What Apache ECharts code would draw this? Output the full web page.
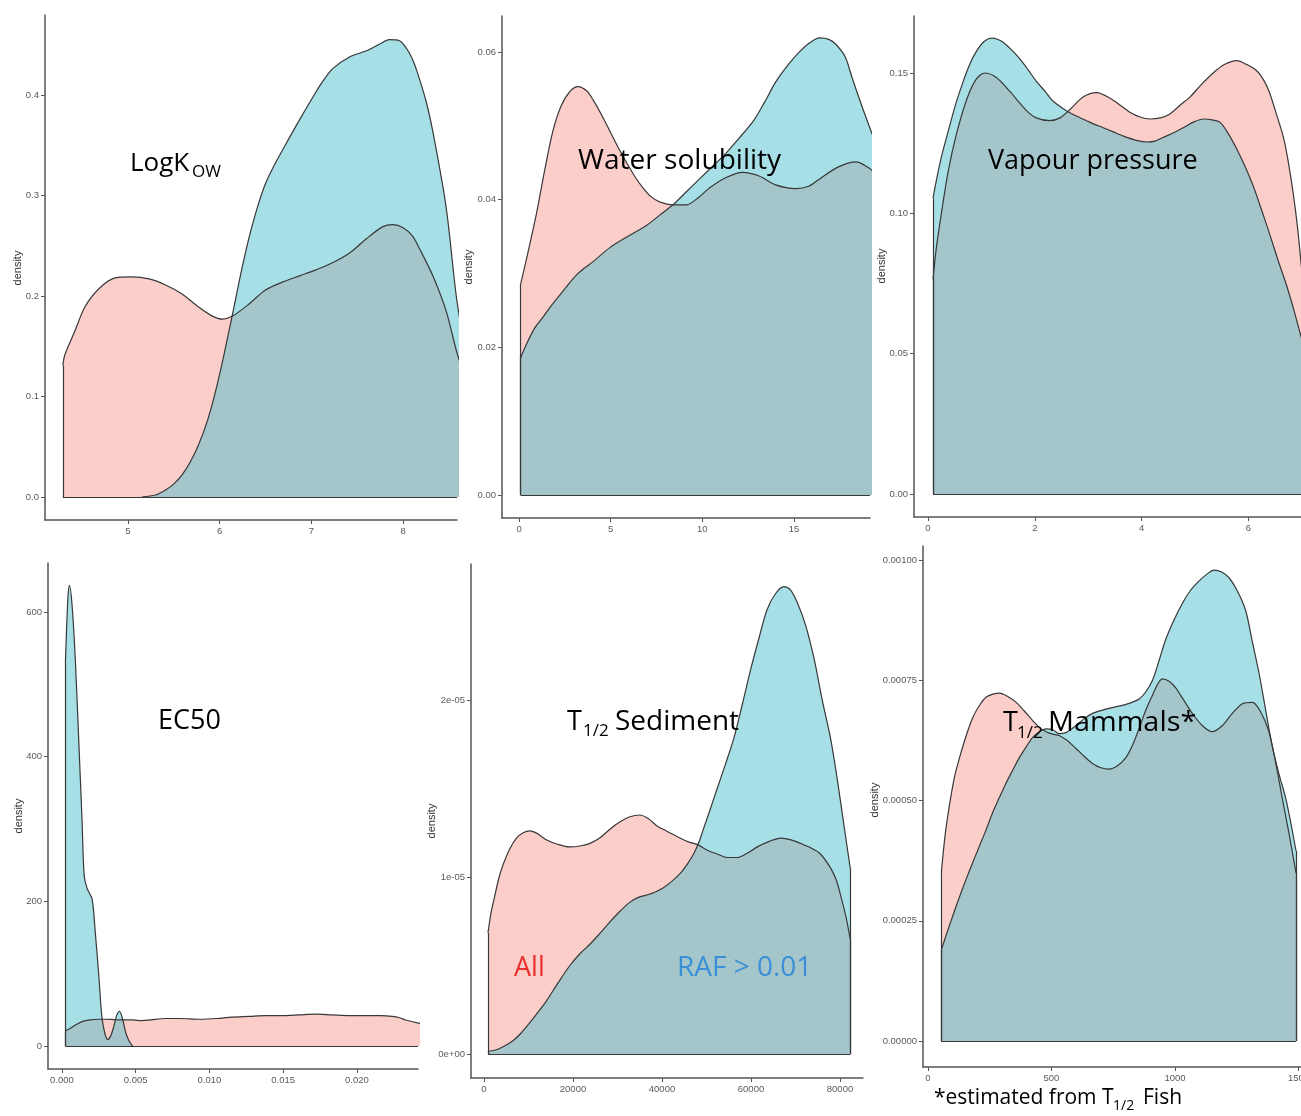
<!DOCTYPE html>
<html>
<head>
<meta charset="utf-8">
<script src="https://cdn.jsdelivr.net/npm/echarts@6/dist/echarts.min.js"></script>
<style>
html,body{margin:0;padding:0;background:#fff;}
#chart{width:1301px;height:1116px;}
</style>
</head>
<body>
<div id="chart"></div>
<script>
// ---------- data (x, density) ----------
const logkowAll = [[4.29,0.131],[4.31,0.141],[4.42,0.165],[4.53,0.189],[4.68,0.207],[4.86,0.218],[5.04,0.219],[5.23,0.217],[5.41,0.211],[5.59,0.202],[5.77,0.189],[5.92,0.180],[6.03,0.177],[6.14,0.180],[6.32,0.192],[6.5,0.206],[6.69,0.214],[6.87,0.220],[7.05,0.226],[7.23,0.233],[7.42,0.243],[7.6,0.257],[7.78,0.269],[7.89,0.271],[8.0,0.268],[8.1,0.260],[8.18,0.247],[8.33,0.219],[8.47,0.185],[8.58,0.146],[8.65,0.125]];
const logkowRaf = [[5.15,0.0],[5.3,0.002],[5.41,0.007],[5.5,0.013],[5.59,0.022],[5.68,0.035],[5.77,0.052],[5.87,0.077],[5.96,0.107],[6.05,0.143],[6.14,0.182],[6.23,0.222],[6.32,0.258],[6.41,0.288],[6.5,0.312],[6.6,0.331],[6.69,0.346],[6.85,0.372],[7.03,0.400],[7.12,0.413],[7.23,0.426],[7.42,0.438],[7.6,0.444],[7.75,0.451],[7.85,0.455],[7.96,0.454],[8.04,0.446],[8.1,0.436],[8.15,0.424],[8.25,0.394],[8.33,0.361],[8.47,0.288],[8.58,0.200],[8.65,0.160]];

const waterAll = [[0.09,0.0286],[0.5,0.0330],[0.95,0.0381],[1.4,0.0440],[1.85,0.0493],[2.3,0.0527],[2.76,0.0546],[3.22,0.0553],[3.7,0.0547],[4.04,0.0535],[4.5,0.0515],[4.95,0.0493],[5.4,0.0471],[5.85,0.0451],[6.3,0.0432],[6.76,0.0416],[7.2,0.0404],[7.67,0.0397],[8.4,0.0393],[9.13,0.0393],[9.8,0.0403],[10.4,0.0416],[11.3,0.0430],[12.2,0.0437],[13.1,0.0432],[14.0,0.0420],[15.1,0.0415],[15.8,0.0418],[16.4,0.0428],[17.4,0.0444],[18.4,0.0451],[19.13,0.0442],[19.4,0.0436]];
const waterRaf = [[0.09,0.0186],[0.4,0.0204],[0.85,0.0226],[1.31,0.0241],[1.75,0.0256],[2.2,0.0270],[2.65,0.0284],[3.1,0.0297],[3.55,0.0307],[4.04,0.0316],[4.95,0.0335],[5.85,0.0349],[6.95,0.0365],[7.67,0.0379],[8.4,0.0393],[9.1,0.0410],[9.85,0.0428],[10.6,0.0446],[11.3,0.0463],[12.0,0.0483],[12.8,0.0507],[13.4,0.0532],[14.0,0.0559],[14.7,0.0583],[15.3,0.0600],[15.9,0.0613],[16.4,0.0619],[16.9,0.0617],[17.3,0.0610],[17.8,0.0593],[18.2,0.0563],[18.7,0.0527],[19.13,0.0498],[19.4,0.0480]];

const vapourAll = [[0.094,0.0766],[0.156,0.0876],[0.25,0.0999],[0.375,0.1146],[0.53,0.128],[0.72,0.1403],[0.9,0.1477],[1.06,0.150],[1.28,0.1484],[1.53,0.1435],[1.84,0.1367],[2.03,0.1340],[2.28,0.1330],[2.47,0.1340],[2.66,0.1370],[2.91,0.1415],[3.16,0.1430],[3.41,0.1410],[3.6,0.1385],[3.78,0.1360],[3.97,0.1343],[4.16,0.1336],[4.35,0.1340],[4.53,0.1354],[4.72,0.1385],[4.91,0.1415],[5.1,0.1455],[5.34,0.1500],[5.55,0.1530],[5.78,0.1544],[5.97,0.1530],[6.16,0.1507],[6.3,0.1470],[6.4,0.1428],[6.53,0.1350],[6.66,0.1268],[6.75,0.1180],[6.84,0.1070],[6.92,0.0950],[6.99,0.0815],[7.05,0.0700]];
const vapourRaf = [[0.094,0.1054],[0.16,0.112],[0.25,0.120],[0.375,0.129],[0.52,0.139],[0.66,0.147],[0.78,0.153],[0.9,0.1575],[1.05,0.1612],[1.19,0.1624],[1.3,0.1620],[1.4,0.1610],[1.56,0.1583],[1.72,0.1550],[1.88,0.1510],[2.03,0.1470],[2.2,0.1433],[2.34,0.1400],[2.5,0.1377],[2.64,0.1360],[2.8,0.1345],[2.97,0.1330],[3.12,0.1317],[3.28,0.1305],[3.47,0.1290],[3.66,0.1275],[3.9,0.1260],[4.1,0.1254],[4.25,0.1257],[4.4,0.1270],[4.6,0.1287],[4.78,0.1305],[4.97,0.1325],[5.16,0.1336],[5.32,0.1333],[5.47,0.1324],[5.62,0.1285],[5.78,0.1230],[5.93,0.1170],[6.09,0.1097],[6.25,0.1010],[6.4,0.0925],[6.56,0.0830],[6.72,0.0740],[6.86,0.0650],[6.99,0.0558],[7.05,0.0520]];

const ec50All = [[0.00023,21],[0.0006,25],[0.001,30],[0.0014,34],[0.0019,36],[0.0025,37],[0.003,37],[0.0035,36.5],[0.004,36],[0.0048,36],[0.0054,35],[0.006,36],[0.007,38],[0.008,38],[0.0093,37],[0.0105,38],[0.0115,40],[0.0127,41],[0.0138,42],[0.015,42],[0.0161,43],[0.0172,44],[0.0183,43],[0.0195,42],[0.0206,42],[0.0216,42],[0.0224,41],[0.0229,39],[0.0233,36],[0.0241,32],[0.0246,30]];
const ec50Raf = [[0.00023,530],[0.0004,620],[0.0005,637],[0.00068,610],[0.0009,535],[0.00113,425],[0.00136,311],[0.0015,236],[0.0017,218],[0.00204,203],[0.00226,156],[0.0025,96],[0.0027,41],[0.0029,18],[0.0031,9],[0.0033,14],[0.0035,26],[0.0037,42],[0.0039,48],[0.0041,38],[0.0043,20],[0.0045,9],[0.0047,2],[0.0048,0]];

const sedAll = [[900,6.85e-6],[1600,8.0e-6],[2400,8.9e-6],[3300,9.9e-6],[4300,1.07e-5],[5800,1.16e-5],[7300,1.22e-5],[8800,1.25e-5],[10300,1.26e-5],[12000,1.245e-5],[14000,1.21e-5],[16500,1.185e-5],[19300,1.17e-5],[21500,1.175e-5],[23800,1.19e-5],[26000,1.22e-5],[28300,1.27e-5],[30500,1.31e-5],[32800,1.34e-5],[35000,1.35e-5],[36900,1.33e-5],[38800,1.29e-5],[41000,1.26e-5],[43300,1.23e-5],[45800,1.2e-5],[48200,1.18e-5],[50300,1.15e-5],[52400,1.13e-5],[54700,1.11e-5],[56900,1.11e-5],[59200,1.135e-5],[61400,1.17e-5],[64000,1.2e-5],[66700,1.22e-5],[69000,1.21e-5],[71100,1.19e-5],[73400,1.165e-5],[75600,1.13e-5],[77900,1.05e-5],[79200,9.8e-6],[80200,8.9e-6],[81300,7.8e-6],[82300,6.5e-6]];
const sedRaf = [[900,1.4e-7],[2800,2.4e-7],[4600,4.5e-7],[6500,7.5e-7],[8400,1.2e-6],[10300,1.77e-6],[12100,2.35e-6],[14000,2.99e-6],[16600,4.0e-6],[19300,5.0e-6],[21500,5.65e-6],[23800,6.2e-6],[26000,6.8e-6],[28300,7.46e-6],[30500,8.05e-6],[32800,8.58e-6],[34700,8.85e-6],[36600,8.98e-6],[38500,9.15e-6],[40300,9.39e-6],[42200,9.75e-6],[44100,1.02e-5],[45600,1.07e-5],[47100,1.13e-5],[48200,1.19e-5],[49300,1.27e-5],[50800,1.38e-5],[52400,1.5e-5],[54300,1.64e-5],[56100,1.78e-5],[58000,1.97e-5],[59900,2.17e-5],[61800,2.35e-5],[63600,2.51e-5],[65500,2.6e-5],[67400,2.64e-5],[68900,2.62e-5],[70400,2.55e-5],[72300,2.42e-5],[74200,2.23e-5],[76000,2.0e-5],[77900,1.78e-5],[79400,1.55e-5],[80900,1.29e-5],[82300,1.05e-5]];

const mamAll = [[54,0.000349],[70,0.00043],[87,0.00049],[108,0.00055],[128,0.000589],[155,0.000635],[182,0.000673],[209,0.000698],[236,0.000715],[263,0.000721],[290,0.000723],[323,0.000716],[357,0.000704],[390,0.000686],[424,0.000666],[451,0.000652],[478,0.000643],[505,0.000638],[531,0.000635],[565,0.000624],[599,0.000608],[632,0.000592],[666,0.000577],[700,0.000568],[733,0.000565],[767,0.000572],[801,0.000589],[828,0.000615],[855,0.00065],[882,0.000688],[909,0.000719],[930,0.000742],[949,0.000753],[976,0.000748],[1003,0.000734],[1036,0.000708],[1070,0.000681],[1110,0.000656],[1151,0.000643],[1192,0.000656],[1232,0.000681],[1273,0.000701],[1313,0.000704],[1346,0.000685],[1380,0.000643],[1407,0.00058],[1434,0.000505],[1462,0.00043],[1490,0.000349]];
const mamRaf = [[54,0.000189],[77,0.000225],[101,0.000261],[128,0.0003],[155,0.000337],[182,0.000372],[209,0.000406],[236,0.00044],[262,0.000475],[289,0.000506],[316,0.000536],[343,0.000563],[370,0.000589],[397,0.000611],[424,0.000631],[451,0.000643],[478,0.000649],[505,0.000647],[531,0.000639],[558,0.000641],[585,0.00065],[625,0.000667],[666,0.000681],[720,0.00069],[773,0.000696],[815,0.000702],[855,0.000711],[882,0.000726],[909,0.00075],[935,0.00079],[962,0.000834],[996,0.000875],[1030,0.00091],[1063,0.000937],[1097,0.000956],[1128,0.00097],[1158,0.000979],[1189,0.000975],[1219,0.000963],[1253,0.000935],[1286,0.000895],[1313,0.00083],[1340,0.000765],[1367,0.000688],[1394,0.000612],[1421,0.000555],[1448,0.000505],[1470,0.00045],[1490,0.000395]];

// ---------- tick values ----------
const logkowXTicks = [5,6,7,8];
const logkowYTicks = [0,0.1,0.2,0.3,0.4];
const waterXTicks = [0,5,10,15];
const waterYTicks = [0,0.02,0.04,0.06];
const vapourXTicks = [0,2,4,6];
const vapourYTicks = [0,0.05,0.10,0.15];
const ec50XTicks = [0,0.005,0.010,0.015,0.020];
const ec50YTicks = [0,200,400,600];
const sedXTicks = [0,20000,40000,60000,80000];
const sedYTicks = [0,1e-5,2e-5];
const mamXTicks = [0,500,1000,1500];
const mamYTicks = [0,0.00025,0.0005,0.00075,0.001];

// ---------- layout ----------
const PINK = 'rgba(248,118,109,0.36)';
const BLUE = 'rgba(77,192,205,0.5)';
const OUTLINE = '#383838';
const AXIS = '#555';

function sci(v){
  if (v === 0) return '0e+00';
  const e = Math.round(Math.log10(Math.abs(v)));
  const m = Math.round(v/Math.pow(10,e));
  return m + 'e' + (e<0?'-':'+') + String(Math.abs(e)).padStart(2,'0');
}
const fx = d => v => v.toFixed(d);

const panels = [
  {grid:{left:45,top:15,width:412,height:505}, x:[4.095,8.588], y:[-0.0229,0.4796], xt:logkowXTicks, yt:logkowYTicks, xf:v=>String(v), yf:fx(1), all:logkowAll, raf:logkowRaf, crop:true},
  {grid:{left:502,top:16,width:368,height:502}, x:[-0.93,19.15], y:[-0.00311,0.06486], xt:waterXTicks, yt:waterYTicks, xf:v=>String(v), yf:fx(2), all:waterAll, raf:waterRaf, crop:true},
  {grid:{left:914,top:16,width:387,height:501}, x:[-0.262,6.985], y:[-0.0082,0.1703], xt:vapourXTicks, yt:vapourYTicks, xf:v=>String(v), yf:fx(2), all:vapourAll, raf:vapourRaf, crop:true},
  {grid:{left:48,top:563,width:370,height:506}, x:[-0.00095,0.02414], y:[-31.8,667.8], xt:ec50XTicks, yt:ec50YTicks, xf:fx(3), yf:v=>String(v), all:ec50All, raf:ec50Raf, crop:true},
  {grid:{left:471,top:564,width:392,height:514}, x:[-2921,85170], y:[-1.356e-6,2.768e-5], xt:sedXTicks, yt:sedYTicks, xf:v=>String(v), yf:sci, all:sedAll, raf:sedRaf, crop:false},
  {grid:{left:923,top:546,width:378,height:521}, x:[-20,1510], y:[-5.4e-5,0.001029], xt:mamXTicks, yt:mamYTicks, xf:v=>String(v), yf:fx(5), all:mamAll, raf:mamRaf, crop:false}
];

const labelStyle = {fontSize:9.5, color:'#5a5a5a', fontFamily:'Liberation Sans'};

function densitySeries(data, i, color, crop, xmax){
  const first = data[0], last = data[data.length-1];
  const endX = crop ? Math.min(last[0], xmax) : last[0];
  const edges = [
    [{coord:[first[0],0]},{coord:[endX,0]}],
    [{coord:[first[0],0]},{coord:[first[0],first[1]]}]
  ];
  if (!crop) edges.push([{coord:[last[0],0]},{coord:[last[0],last[1]]}]);
  return {
    type:'line', xAxisIndex:i, yAxisIndex:i, data:data,
    smooth:0.3, symbol:'none', clip:true, silent:true,
    lineStyle:{color:OUTLINE, width:1.2},
    areaStyle:{color:color, opacity:1},
    markLine:{silent:true, symbol:'none', animation:false, label:{show:false},
      lineStyle:{color:OUTLINE, width:1.2, type:'solid'}, data:edges}
  };
}

const option = {
  animation:false,
  textStyle:{fontFamily:'Liberation Sans'},
  grid: panels.map(p => Object.assign({containLabel:false, outerBoundsMode:'none'}, p.grid)),
  xAxis: panels.map((p,i) => ({
    type:'value', gridIndex:i, min:p.x[0], max:p.x[1],
    axisLine:{show:true, onZero:false, lineStyle:{color:AXIS, width:1.5}},
    axisTick:{show:true, length:4, customValues:p.xt, lineStyle:{color:AXIS, width:1}},
    axisLabel:Object.assign({customValues:p.xt, formatter:p.xf, margin:6, hideOverlap:false}, labelStyle),
    splitLine:{show:false}
  })),
  yAxis: panels.map((p,i) => ({
    type:'value', gridIndex:i, min:p.y[0], max:p.y[1],
    axisLine:{show:true, onZero:false, lineStyle:{color:AXIS, width:1.5}},
    axisTick:{show:true, length:4, customValues:p.yt, lineStyle:{color:AXIS, width:1}},
    axisLabel:Object.assign({customValues:p.yt, formatter:p.yf, margin:6}, labelStyle),
    splitLine:{show:false}
  })),
  series: [].concat(...panels.map((p,i) => [
    densitySeries(p.all, i, PINK, p.crop, p.x[1]),
    densitySeries(p.raf, i, BLUE, p.crop, p.x[1])
  ]))
};

// ---------- annotations ----------
const FONT = "'Open Sans', 'Noto Sans', sans-serif";
function txt(s, x, base, size, color, sx){
  return {type:'text', x:x, y:base - 0.285*size, scaleX:sx||1, silent:true, z:100,
    style:{text:s, fontSize:size, fontFamily:FONT, fill:color||'#000', align:'left', verticalAlign:'middle'}};
}
function ylab(x, y){
  return {type:'text', x:x, y:y, rotation:Math.PI/2, silent:true, z:100,
    style:{text:'density', fontSize:11, fontFamily:'Liberation Sans', fill:'#333', align:'center', verticalAlign:'middle'}};
}
option.graphic = [
  txt('LogK',130,171,26), txt('OW',192,177,17),
  txt('Water solubility',578,169,27,null,1.04),
  txt('Vapour pressure',988,169,27),
  txt('EC50',158,729,27),
  txt('T',567,730,27), txt('1/2',583,736,17), txt('Sediment',615,730,28),
  txt('T',1003,731,27), txt('1/2',1017,738,17), txt('Mammals*',1048,731,28,null,1.03),
  txt('All',514,976,27,'#E8302C'),
  txt('RAF > 0.01',677,976,28,'#3A8FD8'),
  txt('*estimated from T',934,1104,21), txt('1/2',1113,1110,14), txt('Fish',1143,1104,21),
  ylab(18,268), ylab(469,267), ylab(882,266), ylab(19,816), ylab(432,821), ylab(875,800)
];

const chart = echarts.init(document.getElementById('chart'), null, {renderer:'canvas'});
chart.setOption(option);
</script>
</body>
</html>
